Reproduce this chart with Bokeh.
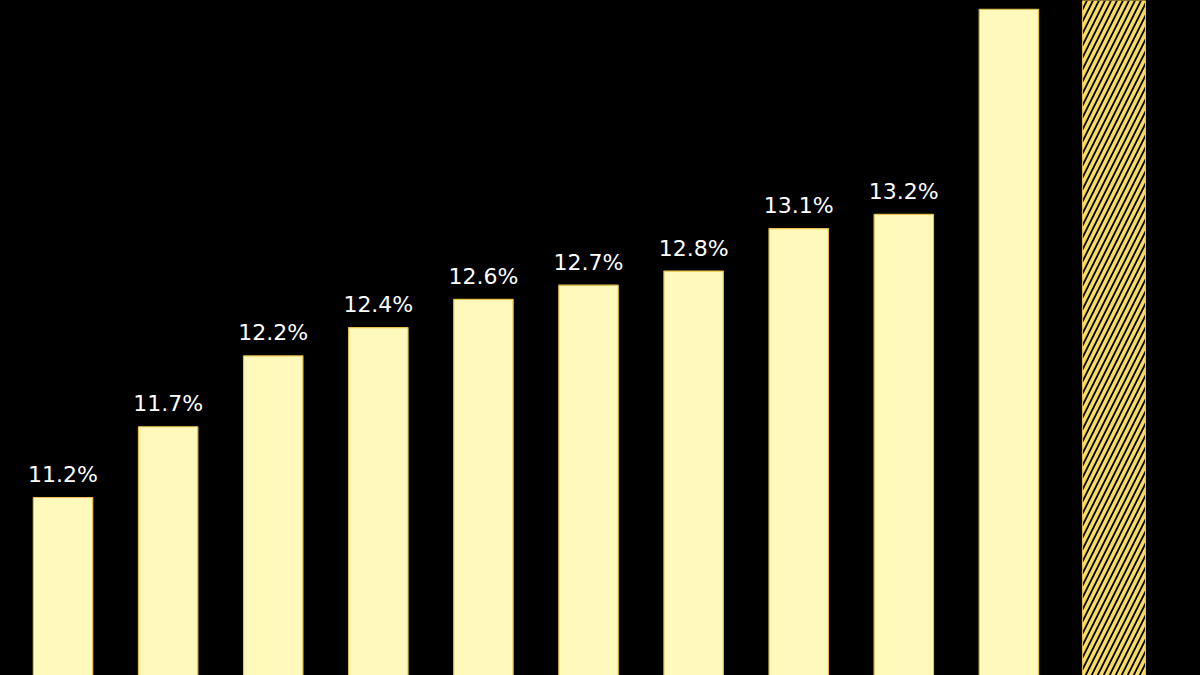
from bokeh.plotting import figure
from bokeh.models import ColumnDataSource, Range1d
from bokeh.core.properties import value
from bokeh.embed import file_html
from bokeh.resources import INLINE

# Data (values in %)
categories = ["1", "2", "3", "4", "5", "6", "7", "8", "9", "10", "11"]
values = [11.2, 11.7, 12.2, 12.4, 12.6, 12.7, 12.8, 13.1, 13.2, 14.65, 15.2]
hatched = [False] * 10 + [True]
labels = ["11.2%", "11.7%", "12.2%", "12.4%", "12.6%", "12.7%", "12.8%", "13.1%", "13.2%"]

xs = list(range(len(categories)))

p = figure(width=1200, height=675, output_backend="svg", toolbar_location=None,
           x_range=Range1d(-0.595, 10.823), y_range=Range1d(9.942, 14.712),
           background_fill_color="#000000", border_fill_color="#000000",
           min_border=0, outline_line_color=None)
p.axis.visible = False
p.grid.visible = False

solid_x = [x for x, h in zip(xs, hatched) if not h]
solid_top = [v for v, h in zip(values, hatched) if not h]
hatch_x = [x for x, h in zip(xs, hatched) if h]
hatch_top = [v for v, h in zip(values, hatched) if h]

p.vbar(x=solid_x, top=solid_top, bottom=0, width=0.565,
       fill_color="#FFFABC", line_color="#E6C24A", line_width=1.2)
p.vbar(x=hatch_x, top=hatch_top, bottom=0, width=0.6,
       fill_color="#000000", line_color="#E6C24A", line_width=1.0,
       hatch_pattern="right_diagonal_line", hatch_color="#F7DB62",
       hatch_scale=12, hatch_weight=3.6)

lab_src = ColumnDataSource(dict(x=xs[:len(labels)], y=values[:len(labels)], text=labels))
p.text(x="x", y="y", text="text", source=lab_src, text_align="center",
       text_baseline="alphabetic", y_offset=-23, text_color="#FFFFFF",
       text_font=value("DejaVu Sans"), text_font_size="22px")

html = file_html(p, INLINE)
html = html.replace("</head>", "<style>html, body { background: #000000; }</style></head>", 1)
open("out.html", "w").write(html)
